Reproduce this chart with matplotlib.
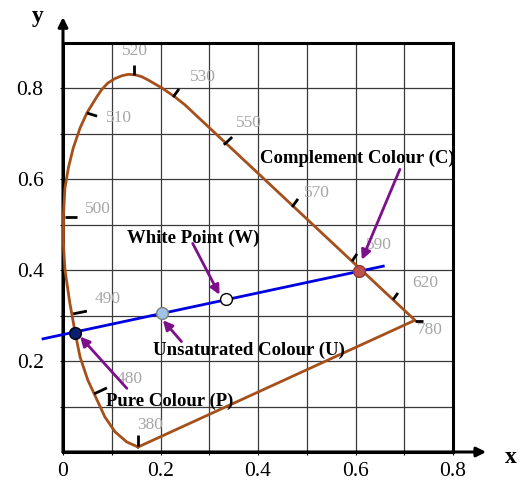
import numpy as np
import matplotlib
matplotlib.use("Agg")
import matplotlib.pyplot as plt

plt.rcParams['font.family'] = ['Liberation Serif', 'DejaVu Serif']

# spectral locus (x, y)
locus_x = [0.154, 0.131, 0.107, 0.086, 0.070, 0.051, 0.035, 0.025, 0.014, 0.004,
           0.001, 0.001, 0.004, 0.011, 0.021, 0.035, 0.049, 0.069, 0.079, 0.092,
           0.107, 0.121, 0.134, 0.148, 0.161, 0.174, 0.203, 0.230, 0.250, 0.722, 0.154]
locus_y = [0.011, 0.022, 0.044, 0.077, 0.114, 0.158, 0.209, 0.262, 0.328, 0.401,
           0.456, 0.522, 0.581, 0.625, 0.669, 0.713, 0.746, 0.781, 0.797, 0.812,
           0.822, 0.828, 0.831, 0.830, 0.826, 0.819, 0.801, 0.781, 0.764, 0.290, 0.011]

# wavelength marks: tick segment and label position
wl_names = ['520', '530', '510', '500', '490', '480', '380', '550', '570', '590', '620', '780']
wl_tick = [((0.146, 0.852), (0.146, 0.830)), ((0.226, 0.781), (0.238, 0.799)),
           ((0.049, 0.746), (0.070, 0.739)), ((0.004, 0.517), (0.029, 0.517)),
           ((0.021, 0.304), (0.049, 0.310)), ((0.064, 0.128), (0.090, 0.141)),
           ((0.154, 0.037), (0.154, 0.013)), ((0.330, 0.676), (0.347, 0.693)),
           ((0.470, 0.539), (0.482, 0.557)), ((0.593, 0.420), (0.603, 0.436)),
           ((0.677, 0.335), (0.687, 0.350)), ((0.722, 0.288), (0.738, 0.288))]
wl_label = [(0.147, 0.883), (0.287, 0.826), (0.114, 0.735), (0.072, 0.535),
            (0.092, 0.337), (0.137, 0.161), (0.178, 0.059), (0.382, 0.724),
            (0.521, 0.570), (0.648, 0.456), (0.743, 0.372), (0.753, 0.268)]

# line through the colour points
line_x = [-0.041, 0.657]
line_y = [0.249, 0.409]

pt_names = ['P', 'U', 'W', 'C']
pt_x = [0.025, 0.204, 0.334, 0.608]
pt_y = [0.262, 0.305, 0.336, 0.399]
pt_face = ['#0b1f6e', '#9dc3e6', 'white', '#c0504d']
pt_edge = ['black', '#7f7f7f', 'black', '#8b3a3a']

texts = ['Pure Colour (P)', 'Unsaturated Colour (U)', 'White Point (W)', 'Complement Colour (C)']
text_pos = [(0.088, 0.112), (0.185, 0.224), (0.131, 0.471), (0.404, 0.647)]
arrow_tail = [(0.131, 0.140), (0.243, 0.243), (0.266, 0.459), (0.691, 0.622)]
arrow_head = [(0.035, 0.254), (0.205, 0.290), (0.321, 0.346), (0.613, 0.423)]

fig = plt.figure(figsize=(5.23, 4.83), dpi=100)
ax = fig.add_axes([63/523, 1 - 452/483, 390/523, 409/483])
ax.set_xlim(0, 0.8)
ax.set_ylim(0, 0.9)

ax.set_xticks([0, 0.2, 0.4, 0.6, 0.8])
ax.set_xticklabels(['0', '0.2', '0.4', '0.6', '0.8'])
ax.set_yticks([0.2, 0.4, 0.6, 0.8])
ax.set_yticklabels(['0.2', '0.4', '0.6', '0.8'])
ax.set_xticks(np.arange(0.1, 0.8, 0.2), minor=True)
ax.set_yticks(np.arange(0.1, 0.9, 0.2), minor=True)
ax.tick_params(which='both', length=2, width=0.8, labelsize=15.5)
ax.tick_params(axis='y', pad=12)
ax.tick_params(axis='x', pad=5)
ax.grid(which='both', color='#3a3a3a', lw=0.9)
ax.set_axisbelow(True)
for s in ax.spines.values():
    s.set_linewidth(2.2)

# axis arrows
ax.annotate('', xy=(0.868, 0), xytext=(0, 0), annotation_clip=False,
            arrowprops=dict(arrowstyle='-|>', lw=2.2, color='black', mutation_scale=14,
                            shrinkA=0, shrinkB=0))
ax.annotate('', xy=(0, 0.957), xytext=(0, 0), annotation_clip=False,
            arrowprops=dict(arrowstyle='-|>', lw=2.2, color='black', mutation_scale=14,
                            shrinkA=0, shrinkB=0))
ax.text(0.918, -0.013, 'x', fontsize=17, fontweight='bold', ha='center', va='center', clip_on=False)
ax.text(-0.051, 0.958, 'y', fontsize=17, fontweight='bold', ha='center', va='center', clip_on=False)

ax.plot(locus_x, locus_y, color='#a5501a', lw=2, zorder=3, clip_on=False)

for name, seg, pos in zip(wl_names, wl_tick, wl_label):
    ax.plot([seg[0][0], seg[1][0]], [seg[0][1], seg[1][1]], color='black', lw=2, zorder=3,
            solid_capstyle='butt', clip_on=False)
    ax.text(pos[0], pos[1], name, color='#a6a6a6', fontsize=12.5, ha='center', va='center', zorder=2)

ax.plot(line_x, line_y, color='#0000e0', lw=2, zorder=4, clip_on=False)

for tx, pos, tail, head in zip(texts, text_pos, arrow_tail, arrow_head):
    ax.text(pos[0], pos[1], tx, fontsize=13.5, fontweight='bold', ha='left', va='center', zorder=6)
    ax.annotate('', xy=head, xytext=tail,
                arrowprops=dict(arrowstyle='-|>', lw=2, color='#7d0f8a', mutation_scale=14,
                                shrinkA=0, shrinkB=0), zorder=5)

for x, y, fc, ec in zip(pt_x, pt_y, pt_face, pt_edge):
    ax.plot(x, y, 'o', ms=8.5, mfc=fc, mec=ec, mew=1, zorder=7, clip_on=False)

fig.savefig('out.png', dpi=100)
